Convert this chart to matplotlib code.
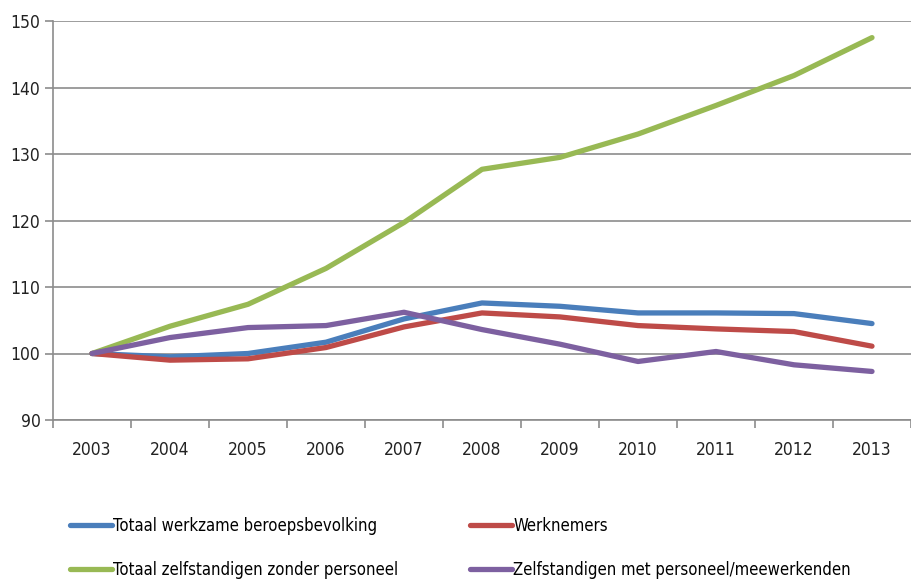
import matplotlib

matplotlib.use("Agg")

import matplotlib.pyplot as plt  # noqa: E402
from matplotlib.ticker import FixedLocator, NullFormatter  # noqa: E402

plt.rcParams["font.family"] = ["DejaVu Sans"]
plt.rcParams["font.stretch"] = "condensed"

years = ["2003", "2004", "2005", "2006", "2007", "2008", "2009", "2010", "2011", "2012", "2013"]
totaal_werkzaam = [100, 99.5, 100.0, 101.7, 105.2, 107.6, 107.1, 106.1, 106.1, 106.0, 104.5]
werknemers = [100, 99.0, 99.2, 100.9, 104.0, 106.1, 105.5, 104.2, 103.7, 103.3, 101.1]
zzp = [100, 104.1, 107.4, 112.8, 119.7, 127.7, 129.5, 133.0, 137.3, 141.8, 147.5]
zmp = [100, 102.4, 103.9, 104.2, 106.2, 103.6, 101.4, 98.8, 100.3, 98.3, 97.3]

labels = [
    "Totaal werkzame beroepsbevolking",
    "Werknemers",
    "Totaal zelfstandigen zonder personeel",
    "Zelfstandigen met personeel/meewerkenden",
]
colors = ["#4A7EBB", "#BE4B48", "#98B954", "#7D60A0"]
y_ticks = [90, 100, 110, 120, 130, 140, 150]


def main() -> None:
    fig = plt.figure(figsize=(9.11, 5.81), dpi=100)
    ax = fig.add_axes([53 / 911, 1 - 420 / 581, 1 - 53 / 911, (420 - 21) / 581])
    x = list(range(len(years)))
    series = [totaal_werkzaam, werknemers, zzp, zmp]
    handles = []
    for values, label, color in zip(series, labels, colors):
        (line,) = ax.plot(x, values, color=color, lw=3.8, label=label,
                          solid_capstyle="round", solid_joinstyle="round")
        handles.append(line)

    ax.set_xlim(-0.5, len(years) - 0.5)
    ax.set_ylim(90, 150)
    ax.set_yticks(y_ticks)
    ax.grid(axis="y", color="#8c8c8c", lw=1.2)
    ax.set_axisbelow(True)
    ax.set_xticks(x)
    ax.set_xticklabels(years)
    ax.xaxis.set_minor_locator(FixedLocator([i - 0.5 for i in range(len(years) + 1)]))
    ax.xaxis.set_minor_formatter(NullFormatter())
    ax.tick_params(axis="x", which="major", length=0, pad=15, labelsize=12.5, colors="#222222")
    ax.tick_params(axis="x", which="minor", length=6, width=1.2, color="#8c8c8c")
    ax.tick_params(axis="y", length=6, width=1.2, color="#8c8c8c", labelsize=12.5,
                   labelcolor="#222222", pad=3)
    for side in ("top", "right"):
        ax.spines[side].set_visible(False)
    for side in ("left", "bottom"):
        ax.spines[side].set_color("#8c8c8c")
        ax.spines[side].set_linewidth(1.2)

    order = [0, 2, 1, 3]
    fig.legend([handles[i] for i in order], [labels[i] for i in order],
               loc="upper left", bbox_to_anchor=(70 / 911, 1 - 517 / 581), ncol=2,
               frameon=False, fontsize=12, handlelength=2.5, handletextpad=0.1,
               columnspacing=4.3, labelspacing=1.55, borderaxespad=0, borderpad=0)

    fig.savefig("out.png", dpi=100)
    plt.close(fig)


if __name__ == "__main__":
    main()
